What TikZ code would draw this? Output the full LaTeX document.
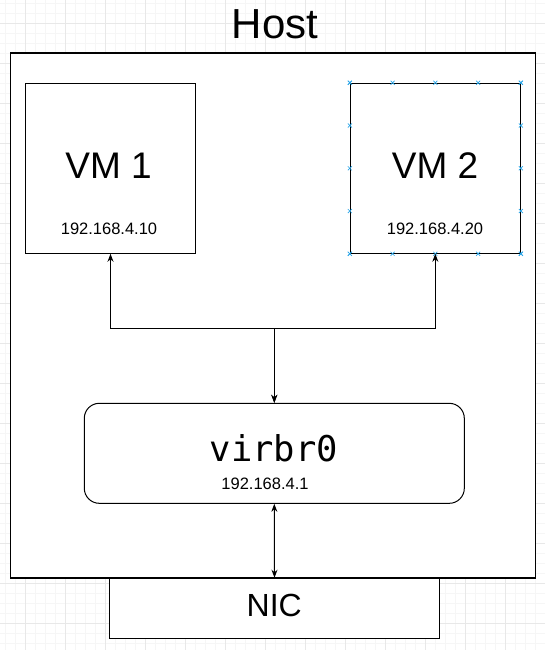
\documentclass[tikz,border=0pt]{standalone}
\usepackage{fontspec}
\setmainfont{Liberation Sans}
\newfontfamily\monofont{DejaVu Sans Mono}
\usetikzlibrary{arrows.meta,calc}
\definecolor{gridminor}{RGB}{246,246,246}
\definecolor{gridmajor}{RGB}{232,232,232}
\definecolor{cpblue}{RGB}{41,165,232}
\begin{document}
\begin{tikzpicture}[x=1pt,y=-1pt,
  box/.style={draw=black, line width=1.2pt, fill=white, inner sep=0pt},
  link/.style={line width=1pt, {Stealth[length=8pt,width=6pt]}-{Stealth[length=8pt,width=6pt]}},
  cpmark/.style={cpblue, line width=0.7pt},
  lbl/.style={anchor=base, inner sep=0pt},
  iptext/.style={lbl, font=\fontsize{16.5}{16.5}\selectfont}]
\useasboundingbox (0,0) rectangle (545,650);
\fill[white] (0,0) rectangle (545,650);
% grid
\foreach \x in {5.7,15.7,...,545} \draw[gridminor,line width=0.8pt] (\x,0) -- (\x,650);
\foreach \y in {3.3,13.3,...,650} \draw[gridminor,line width=0.8pt] (0,\y) -- (545,\y);
\foreach \x in {25.7,65.7,...,545} \draw[gridmajor,line width=0.8pt] (\x,0) -- (\x,650);
\foreach \y in {23.3,63.3,...,650} \draw[gridmajor,line width=0.8pt] (0,\y) -- (545,\y);
% boxes
\node[box, minimum width=525, minimum height=525] (host) at (273,315.5) {};
\node[lbl] (hostlbl) at (275,38.3) {\fontsize{42}{42}\selectfont Host};
\node[box, line width=1pt, minimum width=170, minimum height=170] (vm1) at (110.5,168.3) {};
\node[box, line width=1pt, minimum width=170, minimum height=170] (vm2) at (435.3,168.3) {};
\node[lbl] (vm1lbl) at (108.5,178.3) {\fontsize{37}{37}\selectfont VM 1};
\node[lbl] (vm2lbl) at (435,178.3) {\fontsize{37}{37}\selectfont VM 2};
\node[iptext] (vm1ip) at (109,234) {192.168.4.10};
\node[iptext] (vm2ip) at (435,234) {192.168.4.20};
\node[box, line width=1pt, rounded corners=15pt, minimum width=380, minimum height=100] (virbr) at (274.3,453.3) {};
\node[lbl] (virbrlbl) at (274,461.7) {\fontsize{35.5}{35.5}\monofont virbr0};
\node[iptext] (virbrip) at (265,489.3) {192.168.4.1};
\node[box, minimum width=330, minimum height=60] (nic) at (274.5,608.3) {};
\node[lbl] (niclbl) at (274.3,616.7) {\fontsize{32}{32}\selectfont NIC};
% connection point marks on VM 2
\foreach \t in {0,0.25,0.5,0.75,1} {
  \foreach \a/\b in {north west/north east,south west/south east,north west/south west,north east/south east} {
    \draw[cpmark] ($(vm2.\a)!\t!(vm2.\b)$) ++(-2,-2) -- ++(4,4) ++(-4,0) -- ++(4,-4);
  }
}
% connectors
\coordinate (j) at (274.3,328.3);
\draw[link] (vm1.south) |- (j) -- (virbr.north);
\draw[link] (vm2.south) |- (j) -- (virbr.north);
\draw[link] (virbr.south) -- (nic.north);
\end{tikzpicture}
\end{document}
